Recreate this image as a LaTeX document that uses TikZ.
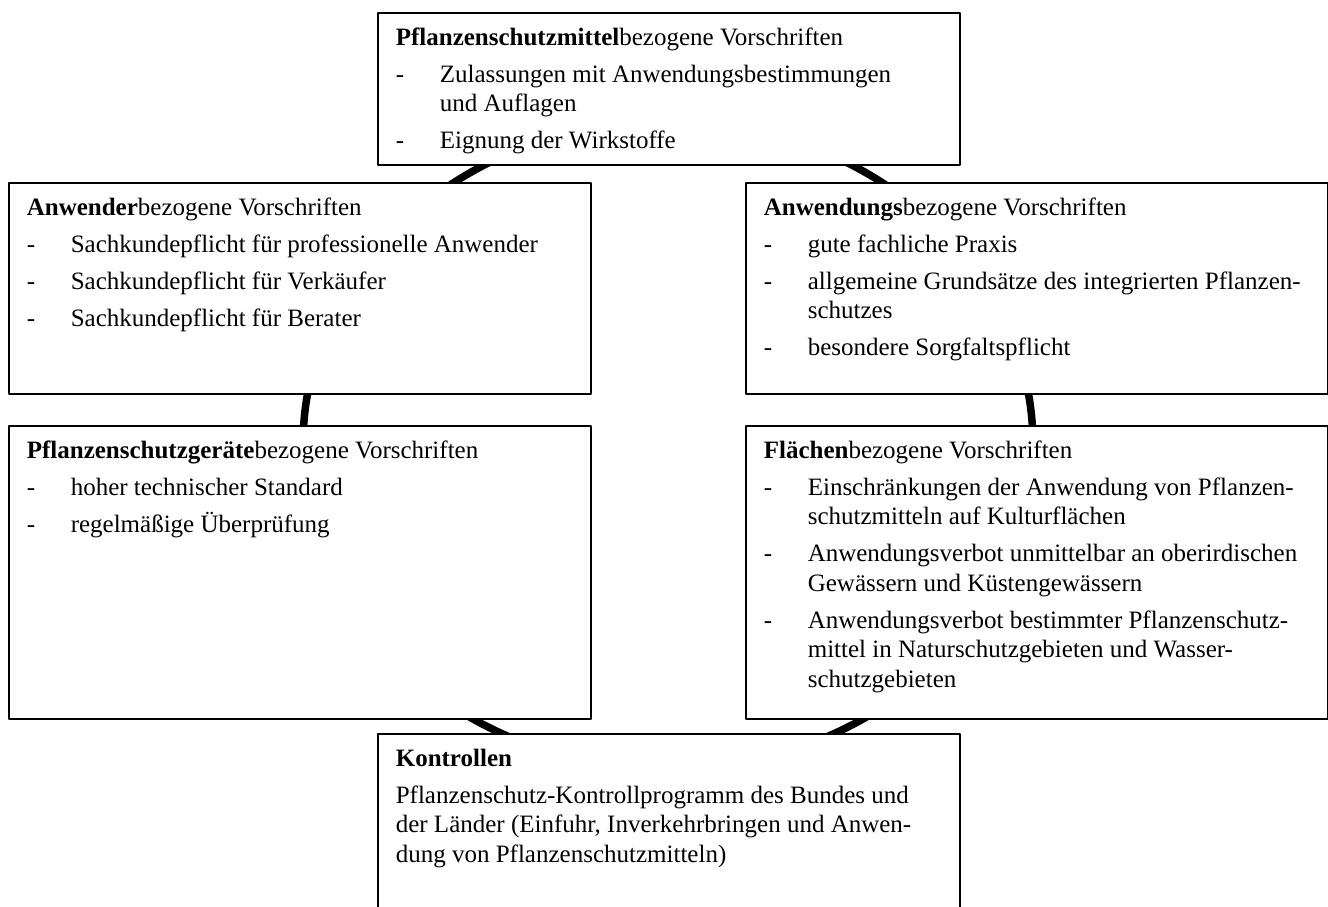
\documentclass[tikz,border=0pt]{standalone}
\usepackage{fontspec}
\setmainfont{Liberation Serif}
\newcommand{\itm}[1]{\par\hangindent=44pt\hangafter=1\makebox[44pt][l]{-}#1}
\newcommand{\regeltext}[2]{\parbox[t][#1][t]{546pt}{\raggedright\setlength{\parskip}{7.5pt}#2}}
\begin{document}
\begin{tikzpicture}[x=1pt, y=-1pt, line join=round,
		regel/.style={draw, line width=1.6pt, fill=white, anchor=north west, inner xsep=18pt, inner ysep=15pt, font=\fontsize{25}{29.5}\selectfont},
		ring/.style={line width=7.5pt}]
		\useasboundingbox (0,0) rectangle (1328,906);
		\clip (0,0) rectangle (1328,906);
		\path
		(668,445) coordinate (M)
		(377,12) coordinate (pm)
		(8,182) coordinate (anw)
		++ (737,0) coordinate (awg)
		(8,425) coordinate (ger)
		++ (737,0) coordinate (fl)
		(377,733) coordinate (ktr)
		;
		\draw[ring]
		(M) ellipse [x radius=365pt, y radius=324pt]
		;
		\node[regel] (mittel) at (pm) {\regeltext{122pt}{%
				\textbf{Pflanzenschutzmittel}bezogene Vorschriften
				\itm{Zulassungen mit Anwendungsbestimmungen\newline und Auflagen}
				\itm{Eignung der Wirkstoffe}}};
		\node[regel] (anwender) at (anw) {\regeltext{181pt}{%
				\textbf{Anwender}bezogene Vorschriften
				\itm{Sachkundepflicht für professionelle Anwender}
				\itm{Sachkundepflicht für Verkäufer}
				\itm{Sachkundepflicht für Berater}}};
		\node[regel] (anwendung) at (awg) {\regeltext{181pt}{%
				\textbf{Anwendungs}bezogene Vorschriften
				\itm{gute fachliche Praxis}
				\itm{allgemeine Grundsätze des integrierten Pflanzen-\newline schutzes}
				\itm{besondere Sorgfaltspflicht}}};
		\node[regel] (geraete) at (ger) {\regeltext{263pt}{%
				\textbf{Pflanzenschutzgeräte}bezogene Vorschriften
				\itm{hoher technischer Standard}
				\itm{regelmäßige Überprüfung}}};
		\node[regel] (flaechen) at (fl) {\regeltext{263pt}{%
				\textbf{Flächen}bezogene Vorschriften
				\itm{Einschränkungen der Anwendung von Pflanzen-\newline schutzmitteln auf Kulturflächen}
				\itm{Anwendungsverbot unmittelbar an oberirdischen\newline Gewässern und Küstengewässern}
				\itm{Anwendungsverbot bestimmter Pflanzenschutz-\newline mittel in Naturschutzgebieten und Wasser-\newline schutzgebieten}}};
		\node[regel] (kontrollen) at (ktr) {\regeltext{170pt}{%
				\textbf{Kontrollen}\par
				Pflanzenschutz-Kontrollprogramm des Bundes und\newline der Länder (Einfuhr, Inverkehrbringen und Anwen-\newline dung von Pflanzenschutzmitteln)}};
	\end{tikzpicture}
\end{document}
